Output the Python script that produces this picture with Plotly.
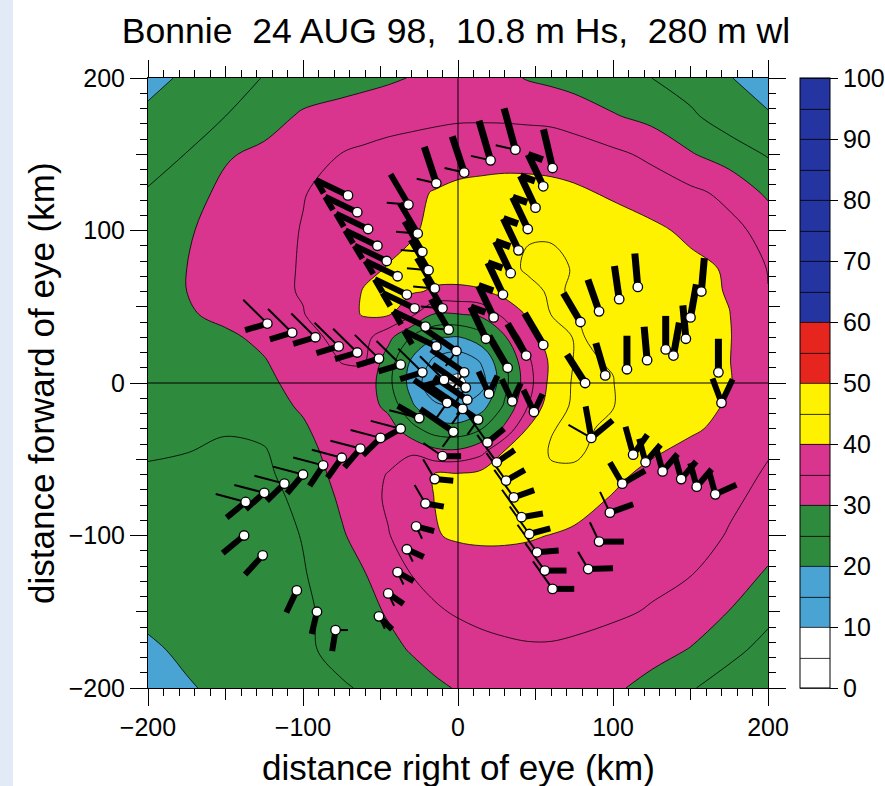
import numpy as np
import plotly.graph_objects as go

# ---------------- text ----------------
title_text = "Bonnie\u00a0\u00a024 AUG 98,\u00a0\u00a010.8 m Hs,\u00a0\u00a0280 m wl"
x_title = "distance right of eye (km)"
y_title = "distance forward of eye (km)"
font_family = "Liberation Sans, Arial, Helvetica, sans-serif"

# ---------------- field (on a grid, km) ----------------
grid_x = [-200, -175, -150, -125, -100, -75, -60, -45, -30, -15, 0, 15, 30, 45, 60, 75, 100, 125, 150, 175, 200]
grid_y = [200, 175, 150, 125, 100, 75, 60, 45, 30, 15, 0, -15, -30, -45, -60, -75, -100, -125, -150, -175, -200]
z_rows = [
    [18.5, 20.8, 23.0, 25.2, 26.5, 27.8, 28.5, 29.3, 30.2, 31.2, 32.0, 31.8, 31.0, 29.7, 28.9, 28.0, 26.5, 25.0, 22.8, 20.2, 18.0],
    [21.0, 23.3, 25.0, 27.5, 30.8, 32.0, 32.7, 33.2, 33.6, 34.0, 34.3, 34.3, 34.2, 34.0, 33.8, 32.8, 30.4, 28.5, 25.8, 22.5, 20.4],
    [23.3, 25.1, 29.4, 31.3, 33.2, 35.1, 35.8, 36.5, 37.0, 37.5, 38.0, 38.3, 38.5, 38.3, 38.0, 37.5, 36.0, 34.0, 30.4, 27.5, 24.6],
    [25.3, 27.8, 31.3, 33.0, 34.8, 36.5, 37.5, 38.5, 39.3, 40.2, 41.0, 41.3, 41.5, 41.6, 41.4, 40.8, 39.3, 37.5, 36.0, 33.8, 29.0],
    [27.0, 29.6, 31.5, 33.3, 35.2, 36.8, 37.8, 38.7, 39.6, 40.8, 42.0, 43.0, 44.0, 44.8, 44.6, 43.8, 42.3, 41.0, 39.0, 36.3, 33.5],
    [27.5, 30.0, 32.0, 33.7, 35.3, 37.3, 39.2, 40.2, 41.0, 41.5, 42.3, 43.2, 44.3, 45.3, 45.8, 44.8, 43.5, 42.5, 41.2, 39.5, 34.8],
    [27.5, 30.0, 32.0, 33.8, 35.3, 38.3, 40.3, 41.0, 40.5, 39.5, 39.0, 39.5, 41.5, 44.3, 45.3, 44.8, 43.5, 42.5, 41.5, 39.7, 35.1],
    [27.8, 29.5, 31.1, 32.9, 34.8, 38.5, 40.4, 40.5, 36.0, 29.6, 29.8, 31.0, 36.5, 40.5, 45.05, 45.1, 44.0, 43.0, 42.0, 40.1, 36.0],
    [28.0, 28.5, 29.2, 31.0, 33.3, 36.5, 36.5, 31.5, 24.7, 20.4, 19.7, 22.9, 29.3, 38.1, 42.0, 45.3, 44.2, 42.8, 41.6, 40.2, 36.8],
    [28.3, 28.6, 29.0, 29.8, 32.6, 35.2, 35.5, 27.5, 19.6, 14.1, 12.2, 15.5, 24.6, 34.1, 41.0, 45.2, 44.9, 43.0, 41.8, 40.1, 37.0],
    [28.3, 28.8, 29.2, 29.3, 31.1, 33.8, 33.3, 26.3, 18.3, 11.0, 8.5, 13.0, 23.4, 32.9, 41.5, 45.6, 45.05, 43.3, 42.0, 40.2, 37.3],
    [27.3, 27.8, 28.0, 28.5, 30.5, 33.0, 32.5, 28.6, 20.7, 15.9, 14.8, 18.0, 25.6, 34.9, 43.0, 45.6, 45.1, 43.2, 41.5, 39.6, 37.0],
    [26.0, 26.3, 25.5, 26.2, 29.5, 32.5, 33.0, 32.5, 26.6, 22.4, 21.8, 24.8, 31.0, 40.3, 44.8, 45.8, 44.3, 42.5, 40.8, 38.5, 36.3],
    [25.6, 25.1, 24.0, 24.6, 28.5, 32.0, 33.5, 33.5, 34.5, 31.4, 30.9, 33.6, 40.3, 43.0, 45.3, 45.6, 43.5, 40.7, 38.5, 37.0, 35.2],
    [24.2, 23.8, 23.5, 24.0, 27.5, 31.5, 33.5, 35.2, 37.5, 40.3, 40.5, 41.5, 42.5, 43.5, 44.5, 44.3, 41.3, 38.5, 37.0, 36.0, 34.7],
    [23.5, 23.2, 23.0, 23.5, 26.2, 30.8, 33.4, 35.6, 37.5, 40.1, 41.5, 42.5, 43.0, 43.2, 43.0, 42.2, 39.7, 38.0, 36.5, 35.5, 34.3],
    [22.5, 22.5, 22.3, 23.0, 25.2, 29.5, 32.0, 34.8, 37.0, 39.7, 40.6, 40.8, 40.7, 40.4, 39.9, 39.2, 37.7, 36.5, 36.2, 34.8, 32.3],
    [21.8, 22.0, 22.3, 23.0, 24.7, 27.7, 29.9, 32.5, 35.1, 36.3, 37.2, 37.8, 38.0, 38.0, 37.9, 37.7, 37.0, 36.2, 35.2, 32.8, 29.4],
    [21.0, 21.3, 21.7, 22.5, 24.2, 26.7, 28.8, 30.4, 32.7, 34.5, 35.4, 36.0, 36.3, 36.4, 36.4, 36.2, 35.8, 34.6, 32.3, 29.9, 26.2],
    [19.3, 20.8, 21.5, 22.5, 24.3, 26.2, 27.5, 28.9, 30.3, 31.7, 33.0, 33.8, 34.3, 34.6, 34.6, 34.3, 33.0, 31.5, 29.8, 26.3, 23.5],
    [17.5, 19.6, 21.0, 22.2, 23.4, 24.6, 25.4, 26.8, 28.0, 29.2, 30.3, 31.2, 31.8, 32.2, 32.2, 31.8, 30.7, 28.6, 25.4, 22.8, 21.0],
]

# colour classes of the legend bar
level_edges = [0, 10, 20, 30, 40, 50, 60, 100]
level_colors = ["#ffffff", "#49a3d3", "#2e8a3d", "#d9358f", "#fff200", "#e5251e", "#2434a0"]
cbar_ticks = [0, 10, 20, 30, 40, 50, 60, 70, 80, 90, 100]
contour_step = 5

# ---------------- observations (km) and their glyph strokes ----------------
obs_x = [
    -71, -65, -58, -52, -46, -39, -33, -28, -21, -14,
    -32, -26, -23, -19, -15, -10, -6,
    -14, 4, 21, 37, 61,
    55, 50, 45, 39, 34, 29, 23, 18,
    79, 91, 104, 116, 82, 95, 109, 122, 134, 139, 147, 150, 157, 168,
    55, 44, 32,
    20, 35, 49,
    19, 25, 31, 36, 41, 46, 51, 56, 61,
    84, 91, 98, 106, 113,
    121, 132, 144, 154, 166,
    86, 170,
    -123, -107, -92, -77, -65, -51, -37, -23, -9,
    -25, -37, -50, -63, -75, -87, -100, -112, -125, -137,
    -138, -126, -104, -91, -79,
    -10, -15, -21, -27, -33, -39, -45, -51,
    -1, 4, 5, 6, -7, 3, 13, -3,
]
obs_y = [
    123, 112, 101, 90, 80, 70, 58, 49, 37, 24,
    117, 98, 86, 74, 62, 49, 35,
    131, 138, 146, 153, 141,
    129, 115, 101, 87, 72, 58, 43, 29,
    40, 47, 55, 63, 0, 5, 9, 15, 22, 18, 29, 43, 60, 7,
    25, 18, 10,
    -7, -12, -19,
    -39, -52, -64, -75, -88, -99, -111, -123, -135,
    -122, -104, -85, -66, -47,
    -52, -58, -63, -68, -73,
    -36, -13,
    39, 33, 30, 24, 20, 16, 12, 7, 2,
    -23, -30, -36, -43, -49, -54, -60, -66, -72, -78,
    -100, -113, -136, -150, -162,
    -48, -63, -79, -94, -109, -124, -138, -153,
    21, 7, -3, -11, -13, -17, -24, -32,
]
bar1_dir = [
    296, 296, 296, 296, 296, 296, 296, 296, 296, 296,
    330, 330, 330, 330, 330, 330, 330,
    342, 342, 344, 345, 347,
    335, 335, 335, 335, 335, 335, 335, 335,
    330, 341, 352, 355, 328, 344, 0, 355, 0, 10, 355, 10, 5, 0,
    330, 330, 330,
    335, 335, 335,
    50, 55, 60, 70, 80, 75, 85, 90, 90,
    88, 90, 70, 60, 345,
    345, 345, 345, 345, 345,
    350, 340,
    253, 253, 253, 253, 253, 253, 253, 253, 253,
    300, 240, 225, 220, 215, 213, 220, 225, 228, 230,
    230, 222, 205, 193, 189,
    90, 95, 100, 105, 115, 120, 125, 135,
    305, 305, 305, 305, 305, 305, 305, 305,
]
bar1_len = [
    23, 23, 23, 23, 23, 23, 23, 23, 23, 23,
    23, 23, 23, 23, 23, 23, 23,
    25, 25, 27, 28, 26,
    23, 23, 23, 23, 23, 23, 23, 23,
    22, 22, 22, 22, 22, 22, 22, 22, 22, 22, 22, 22, 22, 22,
    24, 24, 24,
    16, 16, 16,
    14, 14, 14, 14, 14, 14, 14, 14, 14,
    16, 16, 16, 17, 19,
    16, 16, 16, 16, 16,
    21, 17,
    15, 15, 15, 15, 15, 15, 15, 15, 15,
    16, 16, 16, 16, 16, 16, 16, 16, 16, 16,
    18, 17, 16, 15, 14,
    12, 12, 12, 12, 12, 12, 12, 12,
    26, 26, 26, 26, 26, 26, 26, 26,
]
bar2_dir = [0] * 47 + [25, 25, 25] + [0] * 9 + [0, 0, 0, 330, 35] + [40, 40, 40, 40, 65] + [50, 25] + [0] * 40
bar2_len = [0] * 47 + [13, 13, 13] + [0] * 9 + [0, 0, 0, 16, 16] + [15, 15, 15, 15, 15] + [18, 17] + [0] * 40
thin_dir = (
    [0] * 10 + [275] * 7 + [283, 283, 283, 283, 0] + [0] * 8 + [0] * 14 + [0] * 3 + [0] * 3
    + [325] * 9 + [330, 335, 335, 0, 0] + [0] * 5 + [300, 0]
    + [315] * 9 + [285] * 10 + [0, 0, 0, 0, 90]
    + [305, 330, 330, 155, 155, 155, 155, 155] + [215] * 8
)
thin_len = (
    [0] * 10 + [14] * 7 + [13, 13, 13, 13, 0] + [0] * 8 + [0] * 14 + [0] * 3 + [0] * 3
    + [22] * 9 + [13, 14, 15, 0, 0] + [0] * 5 + [17, 0]
    + [22] * 9 + [20] * 10 + [0, 0, 0, 0, 8]
    + [15, 15, 14, 9, 9, 9, 9, 9] + [12] * 8
)
tip_dir = [150] * 10 + [0] * 12 + [110] * 8 + [0] * 81
tip_len = [10] * 10 + [0] * 12 + [10] * 8 + [0] * 81
bar_width = [6] * 10 + [6] * 7 + [7] * 5 + [7] * 8 + [7] * 14 + [7] * 3 + [6] * 64

axis_range = [-200, 200]
major_ticks = [-200, -100, 0, 100, 200]
mid_ticks = [-150, -50, 50, 150]

# ---------------- build figure ----------------
def f_of(v):
    nlev = (level_edges[-1] - level_edges[0]) / contour_step + 1
    return (v - level_edges[0] + contour_step / 2) / (nlev * contour_step)

cscale = []
for i, col in enumerate(level_colors):
    lo = 0.0 if i == 0 else f_of(level_edges[i])
    hi = 1.0 if i == len(level_colors) - 1 else f_of(level_edges[i + 1])
    cscale.append([lo, col])
    cscale.append([hi, col])

y_asc = grid_y[::-1]
z_asc = z_rows[::-1]

fig = go.Figure()
fig.add_trace(go.Contour(
    x=grid_x, y=y_asc, z=z_asc,
    autocontour=False,
    contours=dict(start=level_edges[0], end=level_edges[-1], size=contour_step,
                  coloring="fill", showlines=True),
    line=dict(color="black", width=0.8, smoothing=1.0),
    colorscale=cscale, zmin=level_edges[0], zmax=level_edges[-1],
    hoverinfo="skip",
    colorbar=dict(
        x=(800 - 148) / 620, xanchor="left", xpad=0, ypad=0,
        y=0.5, yanchor="middle", len=1.0, lenmode="fraction",
        thickness=30, outlinecolor="black", outlinewidth=1,
        tickvals=cbar_ticks, ticks="outside", ticklen=8, tickwidth=1, tickcolor="black",
        tickfont=dict(family=font_family, size=25, color="black"),
    ),
))

# crosshair through the eye
fig.add_trace(go.Scatter(
    x=[0, 0, None, axis_range[0], axis_range[1]],
    y=[axis_range[0], axis_range[1], None, 0, 0],
    mode="lines", line=dict(color="black", width=1), hoverinfo="skip", showlegend=False))


def end_point(x0, y0, bearing, length):
    b = np.deg2rad(bearing)
    return x0 + length * np.sin(b), y0 + length * np.cos(b)


thin_x, thin_y = [], []
thick = {}
for i in range(len(obs_x)):
    x0, y0 = obs_x[i], obs_y[i]
    w = bar_width[i]
    thick.setdefault(w, ([], []))
    tx, ty = thick[w]
    if thin_len[i] > 0:
        x1, y1 = end_point(x0, y0, thin_dir[i], thin_len[i])
        thin_x += [x0, x1, None]
        thin_y += [y0, y1, None]
    if bar1_len[i] > 0:
        x1, y1 = end_point(x0, y0, bar1_dir[i], bar1_len[i])
        tx += [x0, x1, None]
        ty += [y0, y1, None]
        if tip_len[i] > 0:
            x2, y2 = end_point(x1, y1, tip_dir[i], tip_len[i])
            tx += [x1, x2, None]
            ty += [y1, y2, None]
    if bar2_len[i] > 0:
        x1, y1 = end_point(x0, y0, bar2_dir[i], bar2_len[i])
        tx += [x0, x1, None]
        ty += [y0, y1, None]

fig.add_trace(go.Scatter(x=thin_x, y=thin_y, mode="lines",
                         line=dict(color="black", width=2), hoverinfo="skip", showlegend=False))
for w, (tx, ty) in thick.items():
    fig.add_trace(go.Scatter(x=tx, y=ty, mode="lines",
                             line=dict(color="black", width=w), hoverinfo="skip", showlegend=False))
fig.add_trace(go.Scatter(x=obs_x, y=obs_y, mode="markers",
                         marker=dict(size=9.5, color="white", line=dict(color="black", width=1.3)),
                         hoverinfo="skip", showlegend=False))

# helper axes carrying the medium (50 km) ticks
fig.add_trace(go.Scatter(x=[axis_range[0]], y=[axis_range[0]], xaxis="x2", yaxis="y2",
                         mode="markers", marker=dict(opacity=0), hoverinfo="skip", showlegend=False))

tickfont = dict(family=font_family, size=25, color="black")
common = dict(range=axis_range, showgrid=False, zeroline=False, showline=True,
              linecolor="black", linewidth=1, mirror="ticks",
              ticks="outside", tickcolor="black", tickwidth=1, ticklen=17,
              tickvals=major_ticks, tickfont=tickfont,
              minor=dict(tick0=0, dtick=10, ticks="outside", ticklen=7,
                         tickcolor="black", tickwidth=1))
aux = dict(range=axis_range, showgrid=False, zeroline=False, showline=False,
           mirror="ticks", ticks="outside", tickcolor="black", tickwidth=1, ticklen=11,
           tickvals=mid_ticks, showticklabels=False)

fig.update_layout(
    width=885, height=786,
    margin=dict(l=148, r=117, t=78, b=98, autoexpand=False),
    paper_bgcolor="white", plot_bgcolor="white",
    font=dict(family=font_family, color="black"),
    showlegend=False,
    xaxis=common,
    yaxis=dict(**common),
    xaxis2=dict(**aux, overlaying="x", anchor="y2"),
    yaxis2=dict(**aux, overlaying="y", anchor="x2"),
    title=dict(text=title_text, x=(456 - 148) / 620, xref="paper", xanchor="center",
               y=1 - 31 / 786, yref="container", yanchor="middle",
               font=dict(family=font_family, size=35.6, color="black")),
    annotations=[
        dict(text=x_title, xref="paper", yref="paper", x=0.5, y=-(767 - 688) / 610,
             xanchor="center", yanchor="middle", showarrow=False,
             font=dict(family=font_family, size=35, color="black")),
        dict(text=y_title, xref="paper", yref="paper", x=(41 - 148) / 620, y=0.5,
             xanchor="center", yanchor="middle", textangle=-90, showarrow=False,
             font=dict(family=font_family, size=35, color="black")),
    ],
    shapes=[dict(type="rect", xref="paper", yref="paper",
                 x0=(0 - 148) / 620, x1=(13 - 148) / 620, y0=-98 / 610, y1=(610 + 78) / 610,
                 fillcolor="#e3eaf7", line=dict(width=0), layer="below")],
)

fig.write_html(
    "out.html",
    config={"responsive": False, "displayModeBar": False},
    default_width="885px", default_height="786px",
    post_script="document.body.style.margin='0';document.body.style.overflow='hidden';",
)
